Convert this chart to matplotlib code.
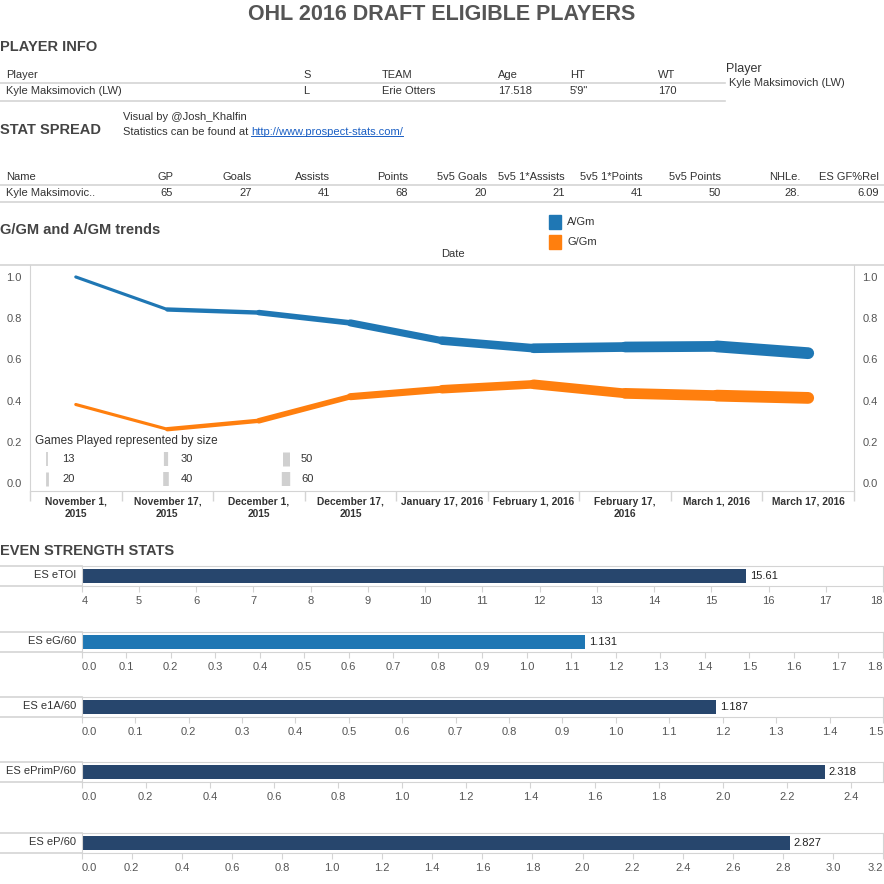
import matplotlib
matplotlib.use('Agg')
import matplotlib.pyplot as plt
from matplotlib.lines import Line2D
from matplotlib.patches import Rectangle
from matplotlib.collections import LineCollection

plt.rcParams['font.family'] = ['Liberation Sans', 'DejaVu Sans']

W = H = 884

# ---- data ----
info_cols = ['Player', 'S', 'TEAM', 'Age', 'HT', 'WT']
info_vals = ['Kyle Maksimovich (LW)', 'L', 'Erie Otters', '17.518', '5\'9"', '170']

stat_cols = ['Name', 'GP', 'Goals', 'Assists', 'Points', '5v5 Goals', '5v5 1*Assists',
             '5v5 1*Points', '5v5 Points', 'NHLe.', 'ES GF%Rel']
stat_vals = ['Kyle Maksimovic..', '65', '27', '41', '68', '20', '21', '41', '50', '28.', '6.09']

dates = ['November 1,\n2015', 'November 17,\n2015', 'December 1,\n2015', 'December 17,\n2015',
         'January 17, 2016', 'February 1, 2016', 'February 17,\n2016', 'March 1, 2016',
         'March 17, 2016']
a_per_gm = [1.0, 0.842, 0.827, 0.777, 0.691, 0.654, 0.660, 0.663, 0.630]
g_per_gm = [0.381, 0.261, 0.302, 0.419, 0.455, 0.479, 0.435, 0.424, 0.413]
games_played = [13, 20, 26, 33, 42, 48, 54, 59, 65]
size_legend = [13, 20, 30, 40, 50, 60]

es_labels = ['ES eTOI', 'ES eG/60', 'ES e1A/60', 'ES ePrimP/60', 'ES eP/60']
es_values = [15.61, 1.131, 1.187, 2.318, 2.827]

# ---- styling ----
BLUE = '#1f77b4'
ORANGE = '#ff7f0e'
NAVY = '#27466d'
GRID = '#d4d4d4'
TXT = '#333333'
FS = 8

fig = plt.figure(figsize=(8.84, 8.84), dpi=100)


def text(x, y, s, **kw):
    kw.setdefault('va', 'center')
    kw.setdefault('color', TXT)
    kw.setdefault('fontsize', FS)
    return fig.text(x / W, 1 - y / H, s, **kw)


def hline(x0, x1, y, color=GRID, lw=1.2):
    fig.add_artist(Line2D([x0 / W, x1 / W], [1 - y / H] * 2, color=color, lw=lw))


def header(x, y, s, size=10.5):
    text(x, y, s, fontsize=size, fontweight='bold', color='#444444')


# title + section headers
text(442, 15, 'OHL 2016 DRAFT ELIGIBLE PLAYERS', ha='center', fontsize=15.5,
     fontweight='bold', color='#555555')
header(0, 47, 'PLAYER INFO')
header(0, 130, 'STAT SPREAD')
header(0, 230, 'G/GM and A/GM trends')
header(0, 551, 'EVEN STRENGTH STATS')

# player info table
info_x = [6, 303, 382, 498, 570, 658]
for x, c, v in zip(info_x, info_cols, info_vals):
    text(x, 75, c)
    text(x, 91, v)
hline(0, 725, 83)
hline(0, 725, 101)
text(726, 69, 'Player', fontsize=9)
text(729, 83, 'Kyle Maksimovich (LW)')

# credits
text(123, 117, 'Visual by @Josh_Khalfin')
t = text(123, 132, 'Statistics can be found at ')
fig.canvas.draw()
r = fig.canvas.get_renderer()
bb = t.get_window_extent(r)
lt = fig.text(bb.x1 / W, 1 - 132 / H, 'http://www.prospect-stats.com/', va='center',
              fontsize=FS, color='#1a5fc4')
bb2 = lt.get_window_extent(r)
fig.add_artist(Line2D([bb2.x0 / W, bb2.x1 / W], [(bb2.y0 + 1) / H] * 2, color='#1a5fc4', lw=0.7))

# stat spread table
stat_x = [6, 173, 252, 330, 408, 487, 565, 643, 721, 800, 879]
for i, (x, c, v) in enumerate(zip(stat_x, stat_cols, stat_vals)):
    ha = 'left' if i == 0 else 'right'
    text(x, 177, c, ha=ha)
    text(x, 193, v, ha=ha)
hline(0, 884, 185)
hline(0, 884, 202)

# ---- trend line chart ----
hline(0, 884, 265)
ax = fig.add_axes([30 / W, 1 - 491 / H, 824 / W, 226 / H])
xs = list(range(len(dates)))
for vals, col in [(a_per_gm, BLUE), (g_per_gm, ORANGE)]:
    segs = [[(xs[i], vals[i]), (xs[i + 1], vals[i + 1])] for i in range(len(xs) - 1)]
    widths = [(games_played[i] + games_played[i + 1]) / 2 * 0.19 * 0.72 for i in range(len(xs) - 1)]
    lc = LineCollection(segs, linewidths=widths, colors=col, capstyle='round', joinstyle='round')
    ax.add_collection(lc)
ax.set_xlim(-0.5, len(dates) - 0.5)
ax.set_ylim(-0.0388, 1.058)
ax.set_yticks([0, 0.2, 0.4, 0.6, 0.8, 1.0])
ax.set_yticklabels(['0.0', '0.2', '0.4', '0.6', '0.8', '1.0'])
ax.tick_params(axis='y', length=0, pad=6, labelsize=FS, labelcolor='#555555',
               labelright=True)
ax.set_xticks(xs)
ax.set_xticklabels(dates, fontweight='bold', color=TXT, fontsize=7.4, linespacing=1.25)
ax.set_xticks([x - 0.5 for x in range(len(dates) + 1)], minor=True)
ax.tick_params(axis='x', which='major', length=0, pad=4)
ax.tick_params(axis='x', which='minor', length=7, color=GRID, width=1)
for s in ['left', 'right', 'bottom']:
    ax.spines[s].set_color(GRID)
ax.spines['top'].set_visible(False)

text(441, 254, 'Date')
fig.add_artist(Rectangle((549 / W, 1 - 229 / H), 12 / W, 14 / H, color=BLUE))
fig.add_artist(Rectangle((549 / W, 1 - 249 / H), 12 / W, 14 / H, color=ORANGE))
text(567, 222, 'A/Gm')
text(567, 242, 'G/Gm')

# size legend
text(35, 441, 'Games Played represented by size', fontsize=8.5)
leg_pos = [(47, 459), (47, 479), (166, 459), (166, 479), (286, 459), (286, 479)]
for (x, y), gp in zip(leg_pos, size_legend):
    fig.add_artist(Line2D([x / W, x / W], [1 - (y - 7) / H, 1 - (y + 7) / H],
                          color='#d0d0d0', lw=gp * 0.14 * 0.72, solid_capstyle='butt'))
    text(x + 15, y, str(gp))

# ---- even strength bars ----
panel_tops = [566, 632, 697, 762, 833]
panel_ranges = [(4, 18, 1), (0, 1.8, 0.1), (0, 1.5, 0.1), (0, 2.5, 0.2), (0, 3.2, 0.2)]
bar_colors = [NAVY, BLUE, NAVY, NAVY, NAVY]
for lab, val, top, (lo, hi, step), col in zip(es_labels, es_values, panel_tops, panel_ranges, bar_colors):
    bot = top + 20
    bx = fig.add_axes([81.7 / W, 1 - bot / H, (883 - 81.7) / W, 20 / H])
    bx.barh(0, val - lo, left=lo, height=0.72, color=col)
    bx.set_xlim(lo, hi)
    bx.set_ylim(-0.5, 0.5)
    bx.set_yticks([])
    n = int(round((hi - lo) / step))
    ticks = [lo + k * step for k in range(n + 1)]
    if hi == 2.5:
        ticks = ticks[:-1] if ticks[-1] > 2.4 + 1e-9 else ticks
    bx.set_xticks(ticks)
    fmt = '{:.0f}' if step >= 1 else '{:.1f}'
    bx.set_xticklabels([fmt.format(t) for t in ticks])
    bx.tick_params(axis='x', length=4, color=GRID, pad=3, labelsize=FS, labelcolor='#555555')
    tl = bx.get_xticklabels()
    tl[0].set_ha('left')
    if abs(ticks[-1] - hi) < 1e-9:
        tl[-1].set_ha('right')
    for s in bx.spines.values():
        s.set_color(GRID)
    bx.annotate(str(val), (val, 0), xytext=(3, 0), textcoords='offset points',
                va='center', ha='left', fontsize=FS, color='#222222')
    hline(0, 82, top)
    hline(0, 82, bot)
    text(76, top + 9, lab, ha='right')

fig.savefig('out.png', dpi=100)
